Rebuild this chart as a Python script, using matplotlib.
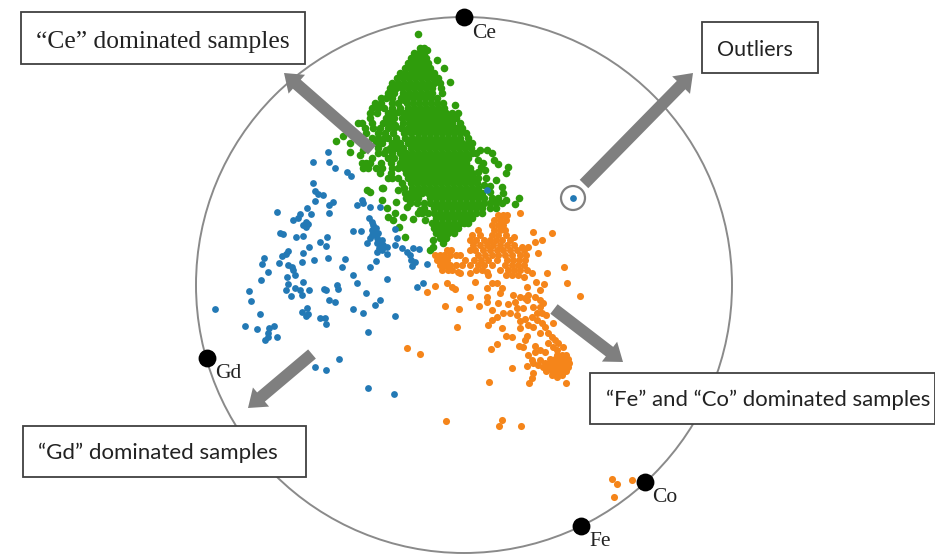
import matplotlib
matplotlib.use("Agg")
import matplotlib.pyplot as plt
from matplotlib.patches import Circle, FancyArrow, Rectangle

# Sample positions (x, y)
blue_points = [
(313,162),(329,162),(335,168),(328,152),(347,172),(351,176),(313,183),(315,191),(323,195),(318,194),
(315,201),(333,202),(329,205),(329,213),(277,212),(307,208),(311,214),(300,214),(293,220),(298,218),
(306,222),(303,225),(308,224),(306,227),(280,233),(283,234),(296,237),(303,236),(327,237),(320,242),
(326,246),(309,247),(288,251),(303,253),(282,256),(286,254),(264,258),(262,264),(279,263),(302,262),
(314,260),(328,258),(345,259),(342,267),(288,265),(292,267),(293,270),(268,272),(295,275),(287,277),
(261,280),(303,282),(353,275),(357,283),(288,284),(286,290),(295,288),(300,290),(309,290),(302,295),
(291,296),(326,290),(324,289),(337,285),(338,289),(329,300),(335,302),(249,291),(251,301),(366,293),
(380,300),(375,305),(215,309),(353,309),(363,313),(307,308),(302,312),(306,316),(308,314),(260,314),
(325,318),(320,318),(326,324),(395,316),(245,326),(257,329),(274,326),(269,328),(268,333),(277,337),
(265,340),(268,337),(368,332),(339,359),(315,367),(326,370),(368,388),(394,394),(387,279),(370,267),
(376,261),(362,200),(363,203),(357,205),(370,207),(380,207),(369,218),(373,225),(372,230),(375,233),
(372,235),(377,238),(382,240),(383,245),(377,243),(367,243),(382,250),(377,252),(387,254),(353,231),
(361,231),(397,238),(395,245),(402,248),(407,252),(410,255),(413,248),(419,249),(415,262),(411,260),
(412,266),(427,264),(423,283),(417,287),(395,229),(378,233),(370,238),(376,228),(380,245),(372,222),
(387,247),(379,248),(487,190),(573,198),
]

green_points = [
(418,34),(427,50),(437,60),(444,68),(450,82),(455,105),(336,141),(343,136),(350,143),(350,152),(360,155),(363,150),
(420,48),(424,48),(414,53),(419,53),(424,53),(411,58),(416,58),(421,58),(426,58),
(408,63),(413,63),(418,63),(423,63),(428,63),(405,68),(410,68),(415,68),(420,68),(425,68),(430,68),
(400,73),(405,73),(411,73),(417,73),(423,73),(429,73),(434,73),
(397,78),(403,78),(409,78),(415,78),(421,78),(427,78),(433,78),(438,78),
(392,83),(398,83),(404,83),(410,83),(416,83),(422,83),(428,83),(434,83),(440,83),
(390,88),(396,88),(402,88),(408,88),(414,88),(420,88),(426,88),(432,88),(441,88),
(388,93),(394,93),(403,93),(409,93),(415,93),(421,93),(427,93),(432,93),(442,93),
(381,98),(386,98),(392,98),(401,98),(407,98),(413,98),(419,98),(425,98),(431,98),(437,98),
(375,103),(381,103),(392,103),(398,103),(407,103),(413,103),(419,103),(425,103),(431,103),(437,103),(443,103),
(372,108),(378,108),(384,108),(392,108),(400,108),(408,108),(414,108),(420,108),(426,108),(432,108),(438,108),(444,108),
(370,113),(377,113),(388,113),(394,113),(404,113),(410,113),(416,113),(422,113),(428,113),(434,113),(440,113),(446,113),(452,113),(458,113),
(370,118),(390,118),(394,118),(408,118),(414,118),(420,118),(426,118),(432,118),(438,118),(444,118),(450,118),(456,118),
(358,123),(362,123),(372,123),(388,123),(392,123),(403,123),(410,123),(416,123),(422,123),(428,123),(434,123),(440,123),(446,123),(452,123),(460,123),
(365,128),(373,128),(394,128),(401,128),(408,128),(414,128),(420,128),(426,128),(432,128),(438,128),(444,128),(450,128),(456,128),(462,128),
(366,133),(378,133),(385,133),(393,133),(404,133),(411,133),(418,133),(424,133),(430,133),(436,133),(442,133),(448,133),(454,133),(460,133),(466,133),
(372,138),(378,138),(388,138),(396,138),(405,138),(412,138),(418,138),(424,138),(430,138),(436,138),(442,138),(448,138),(454,138),(460,138),(468,138),
(376,143),(382,143),(392,143),(399,143),(408,143),(414,143),(420,143),(426,143),(432,143),(438,143),(444,143),(450,143),(456,143),(462,143),(468,143),(472,143),
(378,148),(390,148),(396,148),(403,148),(411,148),(417,148),(423,148),(429,148),(435,148),(441,148),(447,148),(453,148),(459,148),(465,148),(471,148),
(378,153),(384,153),(392,153),(400,153),(406,153),(412,153),(418,153),(424,153),(430,153),(436,153),(442,153),(448,153),(454,153),(460,153),(466,153),(472,153),(492,153),(487,150),
(388,158),(394,158),(402,158),(408,158),(414,158),(420,158),(426,158),(432,158),(438,158),(444,158),(450,158),(456,158),(462,158),(468,158),(480,150),(494,160),
(362,163),(366,163),(370,163),(381,163),(391,163),(400,163),(406,163),(412,163),(418,163),(424,163),(430,163),(436,163),(442,163),(448,163),(454,163),(460,163),(466,163),(481,167),(483,163),(498,164),(508,167),
(363,168),(368,168),(382,168),(392,168),(404,168),(410,168),(416,168),(422,168),(428,168),(434,168),(440,168),(446,168),(452,168),(458,168),(464,168),(470,168),(485,170),
(380,173),(391,173),(406,173),(412,173),(418,173),(424,173),(430,173),(436,173),(442,173),(448,173),(454,173),(460,173),(466,173),(472,173),(506,173),
(388,178),(392,178),(408,178),(414,178),(420,178),(426,178),(432,178),(438,178),(444,178),(450,178),(456,178),(462,178),(468,178),(474,178),
(411,183),(417,183),(423,183),(429,183),(435,183),(441,183),(447,183),(453,183),(459,183),(465,183),(471,183),(477,183),(490,186),
(382,188),(383,188),(404,188),(412,188),(418,188),(424,188),(430,188),(436,188),(442,188),(448,188),(454,188),(460,188),(466,188),(472,188),(478,188),(502,187),
(367,190),(370,192),(405,193),(410,193),(416,193),(422,193),(428,193),(434,193),(440,193),(446,193),(452,193),(458,193),(464,193),(470,193),(476,193),(482,193),(503,193),
(382,200),(396,202),(406,198),(412,198),(418,198),(430,198),(436,198),(442,198),(448,198),(454,198),(460,198),(466,198),(472,198),(478,198),(484,198),(492,198),(498,198),(515,204),(519,198),
(410,203),(417,203),(407,207),(430,203),(436,203),(442,203),(448,203),(454,203),(460,203),(466,203),(472,203),(478,203),(484,203),(490,203),(496,203),(502,203),
(387,208),(420,210),(434,208),(440,208),(446,208),(452,208),(458,208),(464,208),(470,208),(476,208),(482,208),(490,208),(496,208),
(388,217),(395,213),(393,220),(403,217),(413,219),(418,213),(422,213),(434,213),(440,213),(446,213),(452,213),(458,213),(464,213),(470,213),(476,213),(482,213),
(399,227),(436,218),(442,218),(448,218),(454,218),(460,218),(466,218),(472,218),
(432,223),(436,223),(442,223),(448,223),(454,223),(460,223),(464,223),(468,223),
(434,228),(440,228),(446,228),(452,228),(458,228),(436,233),(442,233),(448,233),(454,233),
(405,237),(433,240),(440,238),(446,238),(443,243),(430,250),(433,247),
(404,100),(402,118),(398,112),(383,123),(380,128),(386,118),(398,168),(386,150),(372,158),(376,168),(398,178),(402,183),(398,190),
(388,128),(400,143),(384,138),(395,125),(478,172),(478,178),(484,185),(490,192),(476,153),(478,160),(486,178),(496,180),(506,200),
(424,203),(424,208),(428,213),(425,220),
]

orange_points = [
(498,215),(503,215),(507,215),(520,213),(494,220),(500,220),(506,220),(492,225),(498,225),(503,225),
(478,230),(494,230),(500,230),(505,230),(533,232),(472,235),(480,235),(492,235),(498,235),(506,235),(514,237),(552,233),
(470,240),(476,240),(484,240),(490,240),(496,240),(502,240),(510,240),(535,242),(542,240),
(473,245),(480,245),(487,245),(493,245),(500,245),(507,245),(514,245),(522,247),(528,247),
(447,250),(451,250),(470,250),(475,250),(483,250),(490,250),(497,250),(503,250),(510,250),(517,250),(524,250),
(435,255),(440,255),(444,255),(450,255),(456,255),(460,255),(478,255),(485,255),(492,255),(498,255),(505,255),(512,255),(520,255),(526,255),(538,253),
(437,260),(442,260),(447,260),(465,260),(474,260),(481,260),(488,260),(497,260),(507,260),(513,260),(519,260),(525,260),
(440,265),(445,265),(450,265),(456,265),(462,265),(470,265),(478,265),(484,265),(492,265),(505,265),(512,265),(518,265),(524,265),
(442,270),(448,270),(452,270),(476,270),(482,270),(500,270),(508,270),(514,270),(520,270),(527,270),
(458,272),(460,273),(470,273),(487,272),(488,275),(506,275),(512,275),(518,275),(524,277),(532,273),(547,273),(564,267),
(475,282),(435,286),(427,292),(447,283),(452,287),(455,289),(470,297),(445,306),(459,309),(457,327),(407,348),(420,354),
(479,306),(487,302),(487,297),(487,288),(492,283),(497,283),(502,288),(500,293),(498,303),(508,304),(513,295),(515,302),
(492,310),(497,317),(492,320),(488,325),(503,313),(510,313),(517,315),(520,321),(525,319),(502,328),(520,328),(527,336),(525,340),
(506,336),(512,337),(497,344),(491,349),(519,346),(523,347),(535,346),(540,350),(528,355),(532,360),(512,368),(527,366),
(489,382),(533,373),(532,378),(529,383),(567,283),(580,296),(544,284),(536,282),(553,323),
(527,287),(528,295),(525,298),(520,297),(543,303),(540,307),(542,313),(537,313),(533,307),(532,317),(537,320),(542,323),(545,327),
(540,333),(548,333),(552,337),(555,340),(558,343),(563,347),(553,347),(557,350),(548,343),(523,308),(517,308),(527,300),(540,290),
(535,297),(540,300),(546,315),(533,327),(528,325),
(557,355),(562,355),(566,355),(550,359),(555,359),(560,359),(565,359),(568,359),(545,363),(550,363),(555,363),(560,363),(565,363),(569,363),
(543,367),(548,367),(553,367),(558,367),(563,367),(568,367),(546,371),(552,371),(557,371),(562,371),(566,371),(552,375),(557,375),(562,375),(557,377),(566,383),
(533,363),(538,365),(540,360),(545,352),(535,352),
(446,421),(502,420),(499,426),(521,426),(612,479),(617,484),(614,497),(632,480),
]

vertex_names = ["Ce", "Gd", "Co", "Fe"]
vertex_x = [464, 207, 645, 581]
vertex_y = [17, 358, 482, 526]

box_labels = ["\u201cCe\u201d dominated samples", "Outliers",
              "\u201cFe\u201d and \u201cCo\u201d dominated samples", "\u201cGd\u201d dominated samples"]

BLUE, ORANGE, GREEN, GRAY = "#2379b5", "#f5851a", "#2f9c0c", "#7f7f7f"

fig = plt.figure(figsize=(9.35, 5.54), dpi=100)
ax = fig.add_axes([0, 0, 1, 1])
ax.set_xlim(0, 935)
ax.set_ylim(554, 0)
ax.axis("off")

ax.add_patch(Circle((464, 285), 268, fc="none", ec="#8a8a8a", lw=1.4, zorder=1, clip_on=False))

for pts, col, size in [(green_points, GREEN, 30), (blue_points, BLUE, 24), (orange_points, ORANGE, 26)]:
    ax.scatter([p[0] for p in pts], [p[1] for p in pts], s=size, c=col, lw=0, zorder=2)

ax.scatter(vertex_x, vertex_y, s=165, c="black", lw=0, zorder=4)
label_pos = {"Ce": (472, 33), "Gd": (215, 373), "Co": (652, 498), "Fe": (589, 541)}
for name in vertex_names:
    ax.text(*label_pos[name], name, family="Liberation Serif", fontsize=15.5,
            color="#222222", ha="left", va="center", zorder=5)

ax.add_patch(Circle((573, 198), 12, fc="none", ec="#808080", lw=1.6, zorder=3))

arrows = [((372, 150), (284, 73)), ((584, 184), (693, 73)),
          ((554, 309), (623, 362)), ((312, 354), (248, 408))]
for (x0, y0), (x1, y1) in arrows:
    ax.add_patch(FancyArrow(x0, y0, x1 - x0, y1 - y0, width=12, head_width=25, head_length=17,
                            length_includes_head=True, fc=GRAY, ec=GRAY, lw=0, zorder=3))

boxes = [(21, 12, 284, 52), (702, 22, 116, 51), (590, 373, 345, 51), (23, 426, 283, 51)]
text_pos = [(36, 42), (717, 50), (606, 400), (38, 453)]
fonts = [("Liberation Serif", 18.4), ("Lato", 15.5), ("Lato", 15.9), ("Lato", 16)]
for (x, y, w, h), label, (tx, ty), (fam, fs) in zip(boxes, box_labels, text_pos, fonts):
    ax.add_patch(Rectangle((x, y), w, h, fc="white", ec="#404040", lw=1.3, zorder=6, clip_on=False))
    ax.text(tx, ty, label, family=fam, fontsize=fs, color="#222222", ha="left", va="center", zorder=7)

fig.savefig("out.png", dpi=100)
